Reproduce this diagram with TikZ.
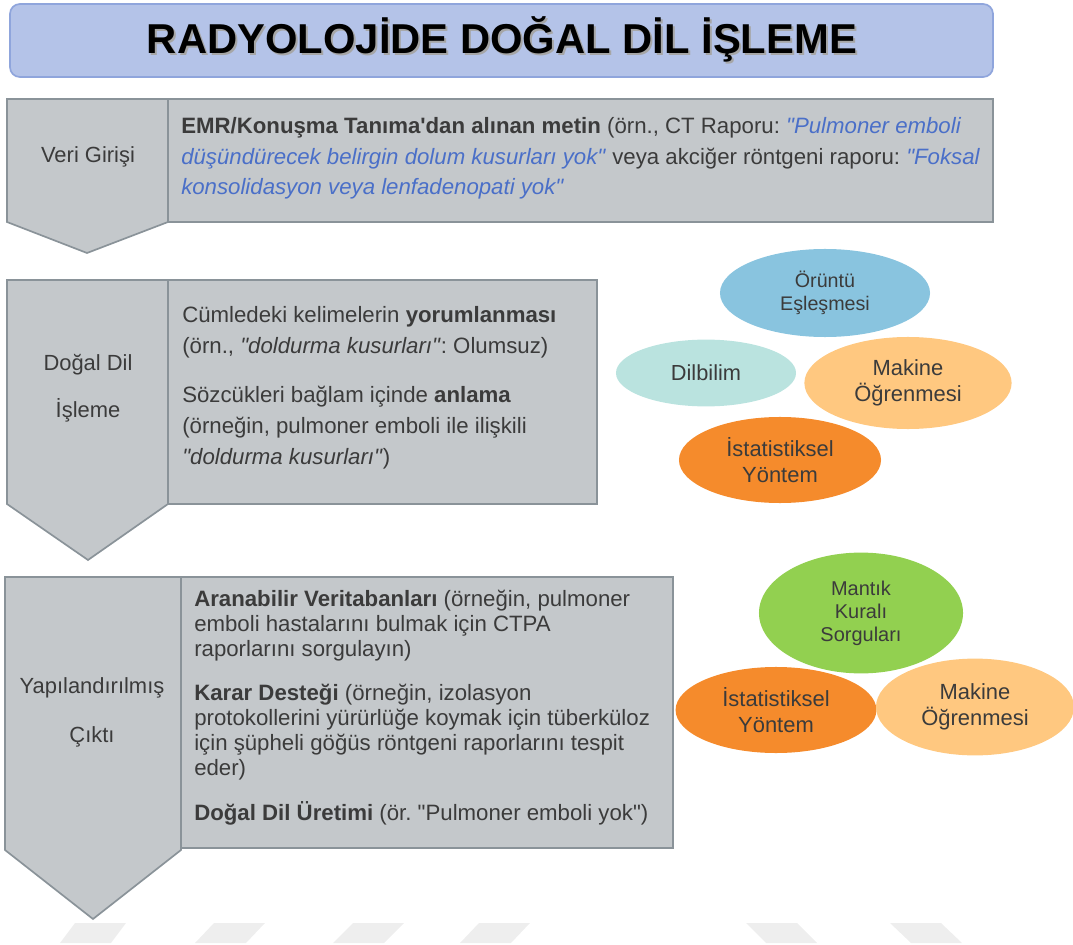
\documentclass[tikz,border=0pt]{standalone}
\usepackage{fontspec}
\setmainfont{Liberation Sans}
\usetikzlibrary{shapes.geometric}
\frenchspacing

\definecolor{titlefill}{HTML}{B4C3E8}
\definecolor{titleline}{HTML}{8FA5DC}
\definecolor{stagefill}{HTML}{C4C8CB}
\definecolor{stageline}{HTML}{8A9399}
\definecolor{txt}{HTML}{3B3B3B}
\definecolor{quote}{HTML}{4A6FC8}
\definecolor{pattern}{HTML}{89C4DF}
\definecolor{linguist}{HTML}{BAE3DF}
\definecolor{learning}{HTML}{FFC880}
\definecolor{statistic}{HTML}{F58B2C}
\definecolor{logic}{HTML}{92D050}
\definecolor{reflex}{HTML}{EEEEEE}
\newcommand{\quoted}[1]{\textcolor{quote}{\textit{#1}}}
\newcommand{\dq}{\textquotedbl}

\begin{document}
\begin{tikzpicture}[x=0.025cm,y=-0.025cm,
    stage/.style={fill=stagefill,draw=stageline,line width=1.2pt},
    stagename/.style={text=txt,align=center,anchor=base,inner sep=0pt},
    body/.style={text=txt,align=left,anchor=base west,inner sep=0pt},
    blob/.style={ellipse,text=txt,align=center,inner sep=0pt}]
  \useasboundingbox (0,0) rectangle (1073,945);

  % title bar
  \draw[fill=titlefill,draw=titleline,line width=1.2pt,rounded corners=7pt] (10,4) rectangle (993,77);
  \node[font=\bfseries\fontsize{29.7}{32}\selectfont,text=black!35,anchor=base] (titleshadow) at (504,56) {RADYOLOJİDE DOĞAL DİL İŞLEME};
  \node[font=\bfseries\fontsize{29.7}{32}\selectfont,text=black,anchor=base] (title) at (502,54) {RADYOLOJİDE DOĞAL DİL İŞLEME};

  % stage 1 (base anchor sits on the last line)
  \draw[stage] (7,99) -- (168,99) -- (168,222) -- (87,253) -- (7,222) -- cycle;
  \draw[stage] (168,99) rectangle (993,222);
  \node[stagename,font=\fontsize{15.6}{22}\selectfont] (input) at (88,163) {Veri Girişi};
  \node[body,font=\fontsize{15.8}{22}\selectfont] (inputtext) at (181,195) {\textbf{EMR/Konuşma Tanıma\textquotesingle dan alınan metin} (örn., CT Raporu: \quoted{\dq Pulmoner emboli}\\
    \quoted{düşündürecek belirgin dolum kusurları yok\dq} veya akciğer röntgeni raporu: \quoted{\dq Foksal}\\
    \quoted{konsolidasyon veya lenfadenopati yok\dq}};

  % stage 2
  \draw[stage] (7,280) -- (168,280) -- (168,504) -- (88,560) -- (7,504) -- cycle;
  \draw[stage] (168,280) rectangle (597,504);
  \node[stagename,font=\fontsize{15.6}{34}\selectfont] (nlp) at (88,418) {Doğal Dil\\İşleme};
  \node[body,font=\fontsize{15.8}{22}\selectfont] (nlptext) at (182,464) {Cümledeki kelimelerin \textbf{yorumlanması}\\
    (örn., \textit{\dq doldurma kusurları\dq}: Olumsuz)\\[12.9pt]
    Sözcükleri bağlam içinde \textbf{anlama}\\
    (örneğin, pulmoner emboli ile ilişkili\\
    \textit{\dq doldurma kusurları\dq})};

  % stage 3
  \draw[stage] (5,577) -- (181,577) -- (181,850) -- (93,919) -- (5,850) -- cycle;
  \draw[stage] (181,577) rectangle (673,848);
  \node[stagename,font=\fontsize{15.6}{34.5}\selectfont] (output) at (92,742) {Yapılandırılmış\\Çıktı};
  \node[body,font=\fontsize{15.8}{17.8}\selectfont] (outputtext) at (194,820) {\textbf{Aranabilir Veritabanları} (örneğin, pulmoner\\
    emboli hastalarını bulmak için CTPA\\
    raporlarını sorgulayın)\\[13.5pt]
    \textbf{Karar Desteği} (örneğin, izolasyon\\
    protokollerini yürürlüğe koymak için tüberküloz\\
    için şüpheli göğüs röntgeni raporlarını tespit\\
    eder)\\[13.5pt]
    \textbf{Doğal Dil Üretimi} (ör. \dq Pulmoner emboli yok\dq)};

  % methods, upper group
  \node[blob,fill=pattern,minimum width=5.25cm,minimum height=2.2cm,font=\fontsize{14}{16.4}\selectfont] (patternmatch) at (825,293) {Örüntü\\Eşleşmesi};
  \node[blob,fill=linguist,minimum width=4.5cm,minimum height=1.67cm,font=\fontsize{15.5}{18}\selectfont] (linguistics) at (706,373) {Dilbilim};
  \node[blob,fill=learning,minimum width=5.18cm,minimum height=2.3cm,font=\fontsize{15.6}{18.5}\selectfont] (mlupper) at (908,383) {Makine\\Öğrenmesi};
  \node[blob,fill=statistic,minimum width=5.05cm,minimum height=2.15cm,font=\fontsize{15.6}{18.5}\selectfont] (statupper) at (780,460) {İstatistiksel\\Yöntem};

  % methods, lower group
  \node[blob,fill=logic,minimum width=5.1cm,minimum height=3.02cm,font=\fontsize{14.2}{16.4}\selectfont] (logicrules) at (861,613) {Mantık\\Kuralı\\Sorguları};
  \node[blob,fill=statistic,minimum width=5.02cm,minimum height=2.15cm,font=\fontsize{15.6}{18.5}\selectfont] (statlower) at (776,710) {İstatistiksel\\Yöntem};
  \node[blob,fill=learning,minimum width=4.95cm,minimum height=2.42cm,font=\fontsize{15.6}{18.5}\selectfont] (mllower) at (975,707) {Makine\\Öğrenmesi};

  % faint reflections along the bottom
  \foreach \a/\b in {60/75,195/214,333/353,460/479,766/746,911/890}
    \fill[reflex] (\b,923) -- (\b+51,923) -- (\a+51,943) -- (\a,943) -- cycle;
\end{tikzpicture}
\end{document}
